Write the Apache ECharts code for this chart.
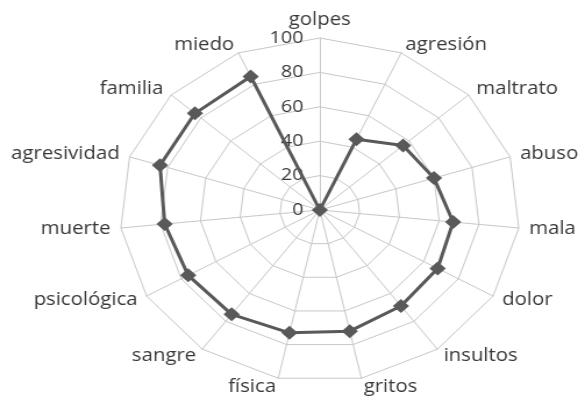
<!DOCTYPE html>
<html>
<head>
<meta charset="utf-8">
<script src="https://cdn.jsdelivr.net/npm/echarts@6/dist/echarts.min.js"></script>
<style>
  html, body { margin: 0; padding: 0; background: #fff; overflow: hidden; }
  /* the reference is a horizontally stretched picture, so the chart is stretched too */
  #chartContainer { width: 503px; height: 401px; transform: scaleX(1.163); transform-origin: 0 0; }
</style>
</head>
<body>
<div id="chartContainer"></div>
<script>
'use strict';
// categories run clockwise from the top
const categories = ['golpes', 'agresión', 'maltrato', 'abuso', 'mala', 'dolor', 'insultos',
    'gritos', 'física', 'sangre', 'psicológica', 'muerte', 'agresividad', 'familia', 'miedo'];
const values = [0, 45, 56, 60, 67, 68, 69, 72, 73, 75, 76, 78, 84, 84, 85];
const axisMin = 0;
const axisMax = 100;
const tickStep = 20;

let initChart = (function() {
    let chartContainer = document.getElementById('chartContainer');
    let demoChart = echarts.init(chartContainer);
    let fontFamily = ['Open Sans', 'Noto Sans', 'sans-serif'];

    // echarts radar goes counter-clockwise, so keep the first axis and reverse the rest
    let order = [0];
    for (let i = categories.length - 1; i > 0; i--) order.push(i);

    let indicators = order.map(function(i) {
        let ind = { name: categories[i], min: axisMin, max: axisMax };
        if (i === 0) {
            ind.axisLabel = {
                show: true,
                showMinLabel: true,
                color: '#383838',
                fontSize: 17,
                fontFamily: fontFamily,
                margin: 14
            };
        }
        return ind;
    });

    let option = {
        backgroundColor: '#fff',
        radar: {
            center: [275, 210],
            radius: 172,
            startAngle: 90,
            shape: 'polygon',
            splitNumber: (axisMax - axisMin) / tickStep,
            indicator: indicators,
            axisName: {
                color: '#383838',
                fontSize: 17.5,
                fontFamily: fontFamily
            },
            nameGap: 9,
            axisLine: {
                lineStyle: { color: '#c8c8c8', width: 1 }
            },
            splitLine: {
                lineStyle: { color: '#c8c8c8', width: 1 }
            },
            splitArea: { show: false },
            axisLabel: { show: false, margin: 14 }
        },
        series: [{
            type: 'radar',
            symbol: 'diamond',
            symbolSize: 14,
            lineStyle: { color: '#595959', width: 3 },
            itemStyle: { color: '#595959' },
            data: [{ value: order.map(function(i) { return values[i]; }) }]
        }]
    };

    demoChart.setOption(option);
})();
</script>
</body>
</html>
